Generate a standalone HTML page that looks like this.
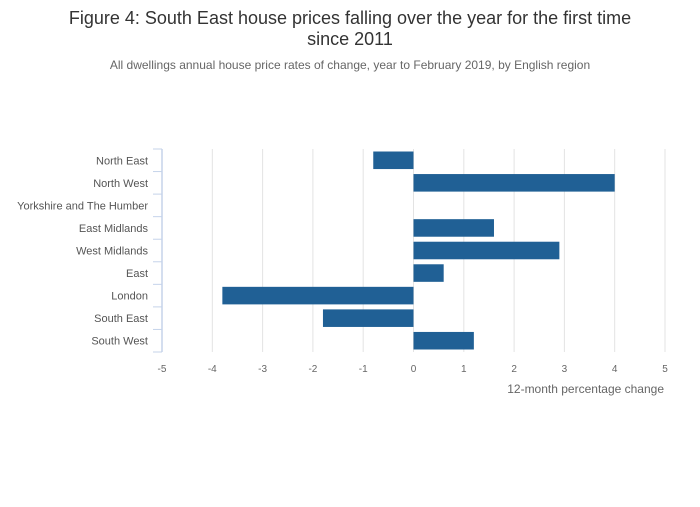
<!DOCTYPE html>
<html><head><meta charset="utf-8"><style>
body{margin:0;background:#fff;font-family:"Liberation Sans",sans-serif;}
svg text{font-family:"Liberation Sans",sans-serif;}
</style></head><body>
<svg width="700" height="502">
<text x="350" y="24" text-anchor="middle" font-size="18" fill="#333">Figure 4: South East house prices falling over the year for the first time</text>
<text x="350" y="45" text-anchor="middle" font-size="18" fill="#333">since 2011</text>
<text x="350" y="69" text-anchor="middle" font-size="12" fill="#666">All dwellings annual house price rates of change, year to February 2019, by English region</text>
<g id="grid"></g><g id="bars"></g><g id="axes"></g>
<text x="664" y="393" text-anchor="end" font-size="12" fill="#666">12-month percentage change</text>
</svg>
<script>
const categories=["North East","North West","Yorkshire and The Humber","East Midlands","West Midlands","East","London","South East","South West"];
const values=[-0.8,4.0,0,1.6,2.9,0.6,-3.8,-1.8,1.2];
const ticks=[-5,-4,-3,-2,-1,0,1,2,3,4,5];
const NS="http://www.w3.org/2000/svg";
const x0=162,x1=665,yTop=149,yBot=352;
const xs=v=>x0+(v+5)/10*(x1-x0);
const band=(yBot-yTop)/categories.length;
const ys=i=>yTop+i*band;
function mk(t,a,p){const e=document.createElementNS(NS,t);for(const k in a)e.setAttribute(k,a[k]);p.appendChild(e);return e;}
const grid=document.getElementById('grid'),bars=document.getElementById('bars'),axes=document.getElementById('axes');
ticks.forEach(t=>{
 if(t!==-5){const l=mk('line',{x1:xs(t),x2:xs(t),y1:yTop,y2:yBot,stroke:'#e3e3e3','stroke-width':1},grid);
 
 }
 const tx=mk('text',{x:xs(t),y:372,'text-anchor':'middle','font-size':10,fill:'#666'},axes);
 tx.textContent=t;
 
 
});
const al=mk('line',{x1:x0,x2:x0,y1:yTop,y2:yBot,stroke:'#c5d3ea','stroke-width':1.5},axes);


for(let i=0;i<=categories.length;i++){
 const tk=mk('line',{x1:x0-9,x2:x0,y1:ys(i),y2:ys(i),stroke:'#c5d3ea','stroke-width':1},axes);
 
 
}
categories.forEach((c,i)=>{
 const tx=mk('text',{x:148,y:ys(i)+band/2+4,'text-anchor':'end','font-size':11,fill:'#555'},axes);
 tx.textContent=c;
 
 
 const v=values[i];
 const r=mk('rect',{x:Math.min(xs(0),xs(v)),y:ys(i)+2.5,width:Math.abs(xs(v)-xs(0)),height:band-5,fill:'#206095'},bars);
 
 
});
</script>
</body></html>
